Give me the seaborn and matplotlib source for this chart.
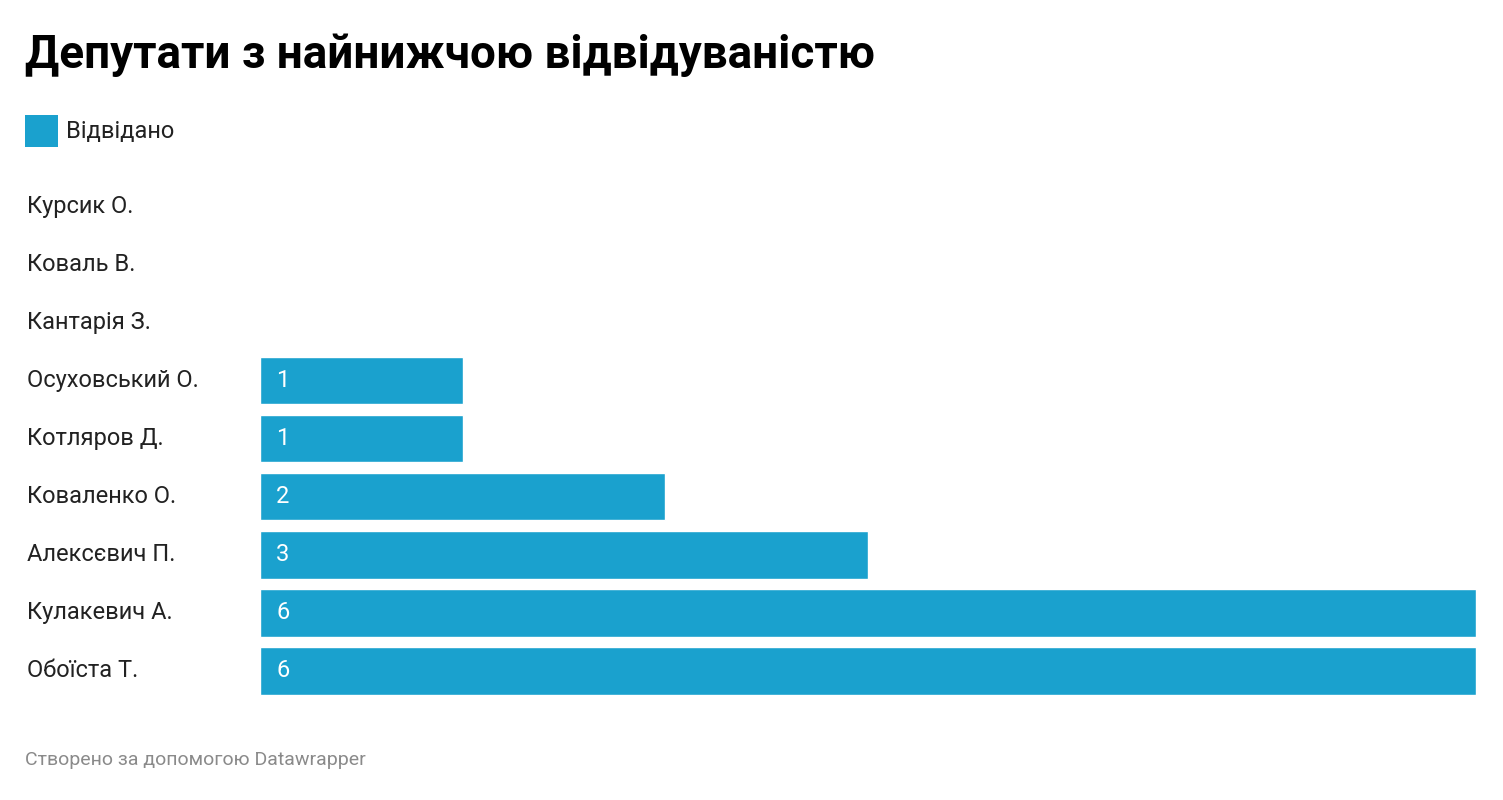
import matplotlib
matplotlib.use("Agg")
import matplotlib.pyplot as plt
import matplotlib.transforms as mtrans
from matplotlib.patches import Rectangle
import seaborn as sns
import pandas as pd

names = ["Курсик О.", "Коваль В.", "Кантарія З.", "Осуховський О.", "Котляров Д.",
         "Коваленко О.", "Алексєвич П.", "Кулакевич А.", "Обоїста Т."]
values = [0, 0, 0, 1, 1, 2, 3, 6, 6]
color = "#1aa1ce"

sns.set_theme(style="white")
plt.rcParams['font.family'] = ['Roboto', 'DejaVu Sans']

df = pd.DataFrame({"name": names, "value": values})
fig = plt.figure(figsize=(15.03, 8), dpi=100)
ax = fig.add_axes([260/1503, 100/800, 1216/1503, 523/800])
sns.barplot(data=df, x="value", y="name", orient="h", color=color, width=0.82,
            saturation=1, ax=ax)
ax.set_xlim(0, 6)
ax.set_ylim(8.5, -0.5)
ax.set_axis_off()

tr = mtrans.blended_transform_factory(fig.transFigure, ax.transData)
for i, (n, v) in enumerate(zip(names, values)):
    ax.text(27/1503, i, n, transform=tr, ha="left", va="center", fontsize=17, color="#222222")
    if v > 0:
        ax.text(0.08, i, str(v), ha="left", va="center", fontsize=17, color="white")

fig.text(25/1503, 1 - 55/800, "Депутати з найнижчою відвідуваністю", fontsize=33,
         fontweight="bold", ha="left", va="center", color="black")
fig.patches.append(Rectangle((25/1503, 1 - 147/800), 33/1503, 32/800, transform=fig.transFigure,
                             facecolor=color, edgecolor="none"))
fig.text(66/1503, 1 - 131/800, "Відвідано", fontsize=17, ha="left", va="center", color="#222222")
fig.text(25/1503, 1 - 760/800, "Створено за допомогою Datawrapper", fontsize=14,
         ha="left", va="center", color="#8a8a8a")

fig.savefig("out.png", dpi=100, facecolor="white")
